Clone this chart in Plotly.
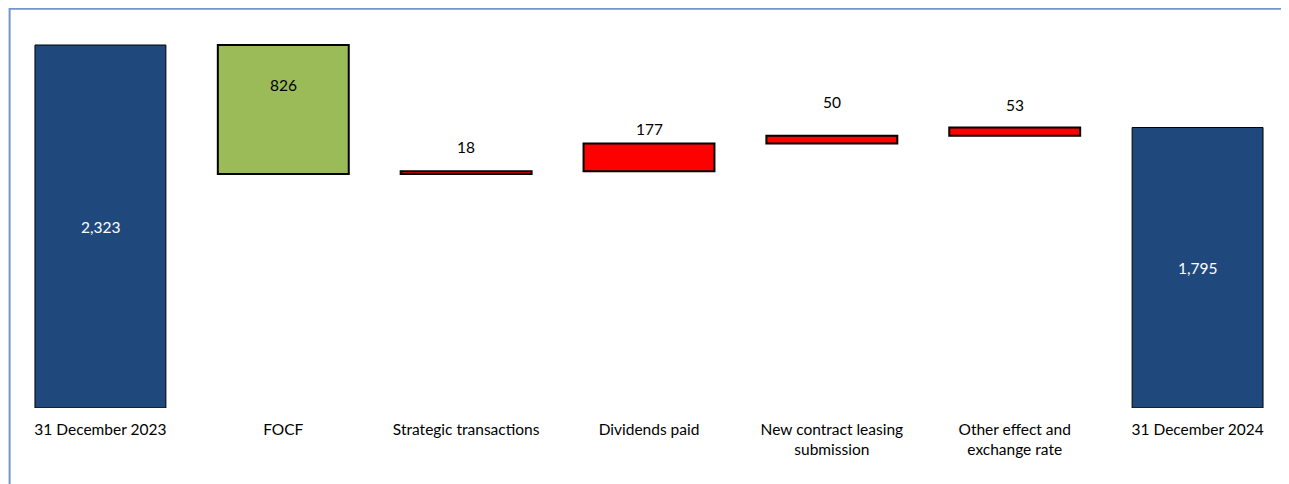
import plotly.graph_objects as go

categories = ["31 December 2023", "FOCF", "Strategic transactions", "Dividends paid",
              "New contract leasing<br>submission", "Other effect and<br>exchange rate",
              "31 December 2024"]
values = [2323, -826, 18, 177, 50, 53, 1795]
kinds = ["total", "delta", "delta", "delta", "delta", "delta", "total"]
labels = ["2,323", "826", "18", "177", "50", "53", "1,795"]

NAVY = "#1F497D"
GREEN = "#9BBB59"
RED = "#FF0000"

bases, heights, colors, lw = [], [], [], []
running = 0
for v, k in zip(values, kinds):
    if k == "total":
        bases.append(0)
        heights.append(v)
        colors.append(NAVY)
        lw.append(1)
        running = v
    else:
        new = running + v
        bases.append(min(running, new))
        heights.append(abs(v))
        colors.append(GREEN if v < 0 else RED)
        lw.append(2)
        running = new

x = list(range(len(categories)))
fig = go.Figure()
fig.add_trace(go.Bar(
    x=x, y=heights, base=bases, width=0.716,
    marker=dict(color=colors, line=dict(color="black", width=lw)),
    hoverinfo="skip",
))

label_pos = ["center", "intop", "above", "above", "above", "above", "center"]
label_shift = [0, -40, 24, 15, 34, 23, 0]
label_col = ["white", "black", "black", "black", "black", "black", "white"]
for i in range(len(categories)):
    b, h = bases[i], heights[i]
    yy = b + h / 2 if label_pos[i] == "center" else b + h
    fig.add_annotation(x=x[i], y=yy, text=labels[i], showarrow=False,
                       yshift=label_shift[i], yanchor="middle",
                       font=dict(color=label_col[i], size=15.5))

fig.add_shape(type="rect", xref="paper", yref="paper",
              x0=0.6 / 1280, x1=1.2, y0=-0.5, y1=1 + 11.3 / 388,
              line=dict(color="#7096CC", width=2), layer="below")

fig.update_layout(
    width=1281, height=476,
    margin=dict(l=1, r=0, t=12, b=76),
    paper_bgcolor="white", plot_bgcolor="white",
    font=dict(family="Lato, Carlito, Calibri, sans-serif", size=15.5, color="black"),
    showlegend=False,
    xaxis=dict(tickmode="array", tickvals=x, ticktext=categories,
               range=[-0.5, len(categories) - 0.5], showgrid=False,
               zeroline=False, showline=False, ticks="outside",
               ticklen=7, tickcolor="rgba(0,0,0,0)"),
    yaxis=dict(range=[0, 2483], visible=False, showgrid=False, zeroline=False),
)

fig.write_html("out.html")
